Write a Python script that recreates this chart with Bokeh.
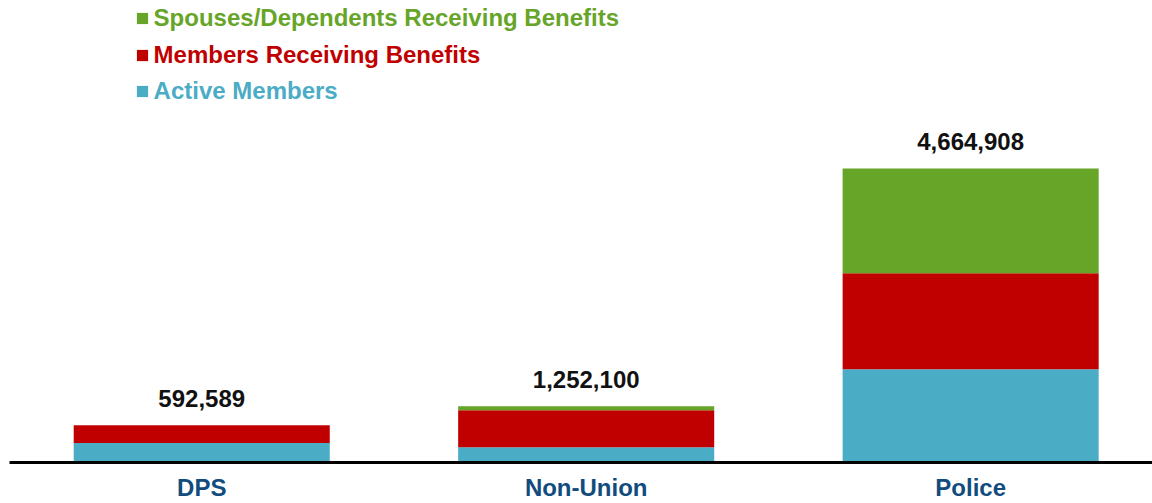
from bokeh.plotting import figure
from bokeh.models import ColumnDataSource, Range1d, FixedTicker, Legend, LegendItem
from bokeh.core.properties import value
from bokeh.embed import file_html
from bokeh.resources import INLINE

# ---- data ----
categories = ["DPS", "Non-Union", "Police"]
active_members = [310000, 243000, 1480000]
members_receiving = [282589, 587000, 1523000]
spouses_receiving = [0, 63000, 1661908]
total_labels = [592589, 1252100, 4664908]
series_names = ["Active Members", "Members Receiving Benefits",
                "Spouses/Dependents Receiving Benefits"]
series_colors = ["#4BACC6", "#C00000", "#66A527"]

FONT = "Liberation Sans"

xs = list(range(len(categories)))
tops = [a + m + s for a, m, s in zip(active_members, members_receiving, spouses_receiving)]
src = ColumnDataSource(dict(
    x=xs,
    active=active_members,
    members=members_receiving,
    spouses=spouses_receiving,
    top=tops,
    label=[f"{v:,}" for v in total_labels],
))

p = figure(width=1152, height=503, output_backend="svg", toolbar_location=None,
           x_range=Range1d(-0.5, 2.473), y_range=Range1d(0, 7330000),
           y_axis_location=None, min_border_left=9, min_border_right=0,
           min_border_top=0, min_border_bottom=0)
p.outline_line_color = None
p.xgrid.visible = False
p.ygrid.visible = False
p.background_fill_color = "white"
p.border_fill_color = "white"

renderers = p.vbar_stack(["active", "members", "spouses"], x="x", width=0.666,
                         source=src, color=series_colors, line_color=None)

p.text(x="x", y="top", text="label", source=src, text_align="center",
       text_baseline="middle", y_offset=-27, text_color="#111111",
       text_font=value(FONT), text_font_style="bold", text_font_size="24px")

ax = p.xaxis[0]
ax.ticker = FixedTicker(ticks=xs)
ax.major_label_overrides = {i: c for i, c in zip(xs, categories)}
ax.major_tick_line_color = None
ax.minor_tick_line_color = None
ax.axis_line_color = "black"
ax.axis_line_width = 3
ax.major_label_standoff = 5
ax.major_label_text_font = FONT
ax.major_label_text_font_style = "bold"
ax.major_label_text_font_size = "24px"
ax.major_label_text_color = "#124C7E"

# one legend per series so each label can take its series colour
legend_rows = [(2, 430), (1, 393.5), (0, 357)]
for idx, ybot in legend_rows:
    lg = Legend(items=[LegendItem(label=series_names[idx], renderers=[renderers[idx]])],
                location=(125.6, ybot), orientation="vertical",
                glyph_width=14, glyph_height=14, label_standoff=5,
                label_height=28, padding=0, margin=0, spacing=0,
                border_line_color=None, background_fill_alpha=0,
                label_text_font=FONT, label_text_font_style="bold",
                label_text_font_size="24px", label_text_color=series_colors[idx])
    p.add_layout(lg, "center")

open("out.html", "w").write(file_html(p, INLINE))
